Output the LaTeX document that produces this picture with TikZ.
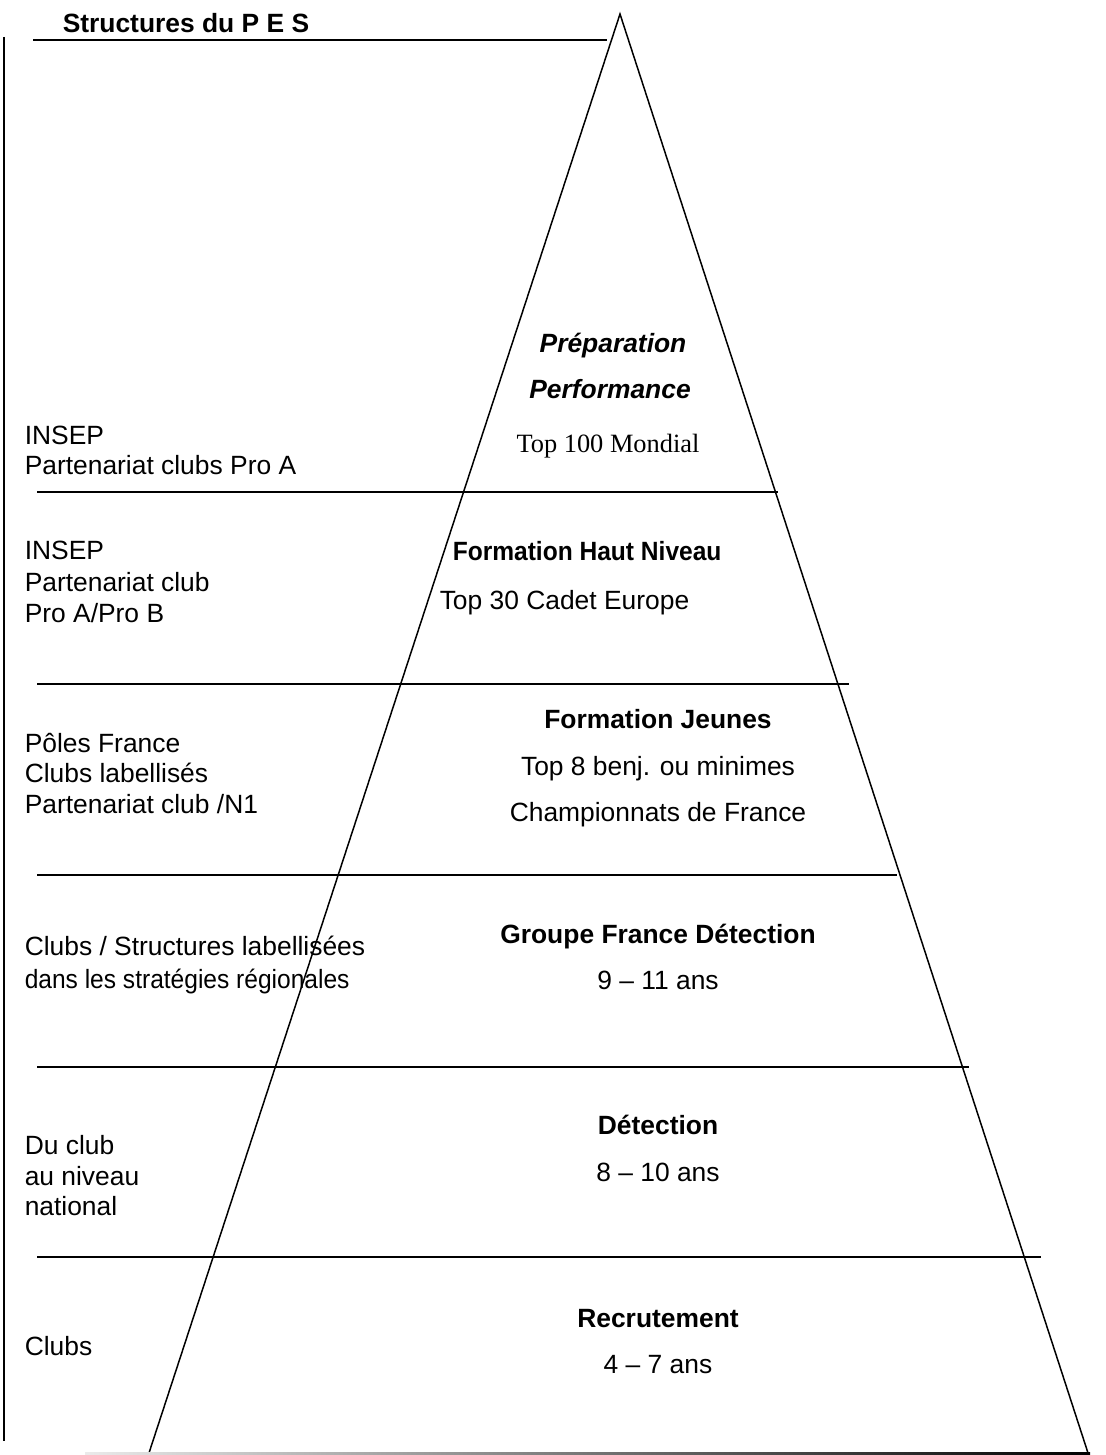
\documentclass[tikz,border=0pt]{standalone}
\usepackage{fontspec}
\setmainfont{Liberation Sans}
\newfontfamily\timesfont{Liberation Serif}

\tikzset{every picture/.style={line width=0.75pt}}
\tikzset{
  lefttxt/.style={anchor=base west,inner sep=0pt,font=\fontsize{13.2}{15}\selectfont},
  midtxt/.style={anchor=base,inner sep=0pt,font=\fontsize{13.2}{15}\selectfont},
  levelline/.style={line width=1pt},
}

\begin{document}
\begin{tikzpicture}[x=0.5pt,y=0.5pt,yscale=-1,xscale=1]
\useasboundingbox (0,0) rectangle (1105,1455);

%Shape: Pyramid
\coordinate (apex) at (620,14);
\coordinate (baseL) at (148,1456);
\coordinate (baseR) at (1088,1453);
\draw (baseL) -- (apex) -- (baseR);
%Shape: base line, fading to the left
\shade[left color=black!8,middle color=black!70,right color=black] (85,1452) rectangle (1090,1454);

%Left frame
\draw [line width=1pt] (4,37) -- (4,1441);
\draw [levelline] (33,40) -- (607,40);

%Level lines
\draw [levelline] (37,492) -- (778,492);
\draw [levelline] (37,684) -- (849,684);
\draw [levelline] (37,875) -- (897,875);
\draw [levelline] (37,1067) -- (969,1067);
\draw [levelline] (37,1257) -- (1041,1257);

% Title
\node [lefttxt,font=\fontsize{13.2}{15}\selectfont\bfseries] (title) at (62,33) {Structures du P E S};

% Left column
\node [lefttxt] (insepA) at (24,444) {INSEP};
\node [lefttxt] (proA) at (24,474) {Partenariat clubs Pro A};
\node [lefttxt] (insepB) at (24,559) {INSEP};
\node [lefttxt] (partB) at (24,591) {Partenariat club};
\node [lefttxt] (proAB) at (24,622) {Pro A/Pro B};
\node [lefttxt] (poles) at (24,752) {Pôles France};
\node [lefttxt] (labels) at (24,782) {Clubs labellisés};
\node [lefttxt] (partN) at (24,813) {Partenariat club /N1};
\node [lefttxt] (struct) at (24,955) {Clubs / Structures labellisées};
\node [lefttxt] (strat) at (24,988) {\scalebox{0.93}[1]{dans les stratégies régionales}};
\node [lefttxt] (duclub) at (24,1154) {Du club};
\node [lefttxt] (auniv) at (24,1185) {au niveau};
\node [lefttxt] (natio) at (24,1215) {national};
\node [lefttxt] (clubs) at (24,1355) {Clubs};

% Pyramid levels
\node [midtxt,font=\fontsize{13.2}{15}\selectfont\bfseries\itshape] (prep) at (613,352) {Préparation};
\node [midtxt,font=\fontsize{13.2}{15}\selectfont\bfseries\itshape] (perf) at (610,398) {Performance};
\node [midtxt,font=\fontsize{13.2}{15}\selectfont\timesfont] (top100) at (608,452) {Top 100 Mondial};

\node [lefttxt,font=\fontsize{13.2}{15}\selectfont\bfseries] (fhn) at (452,560) {\scalebox{0.93}[1]{Formation Haut Niveau}};
\node [lefttxt] (top30) at (439,609) {Top 30 Cadet Europe};

\node [midtxt,font=\fontsize{13.2}{15}\selectfont\bfseries] (fj) at (658,728) {Formation Jeunes};
\node [midtxt] (top8) at (658,775) {Top 8 benj. ou minimes};
\node [midtxt] (champ) at (658,821) {Championnats de France};

\node [midtxt,font=\fontsize{13.2}{15}\selectfont\bfseries] (gfd) at (658,943) {Groupe France Détection};
\node [midtxt] (age9) at (658,989) {9 -- 11 ans};

\node [midtxt,font=\fontsize{13.2}{15}\selectfont\bfseries] (detect) at (658,1134) {Détection};
\node [midtxt] (age8) at (658,1181) {8 -- 10 ans};

\node [midtxt,font=\fontsize{13.2}{15}\selectfont\bfseries] (recrut) at (658,1327) {Recrutement};
\node [midtxt] (age4) at (658,1373) {4 -- 7 ans};

\end{tikzpicture}
\end{document}
